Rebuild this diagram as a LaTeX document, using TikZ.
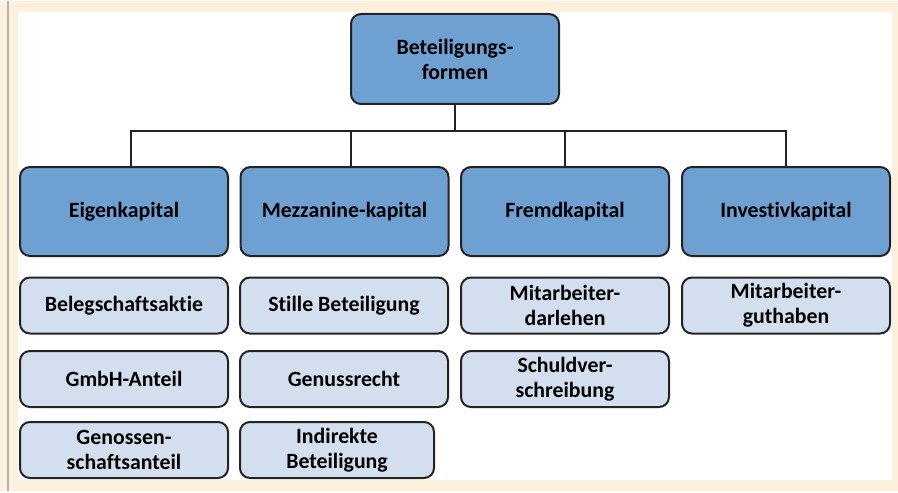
\documentclass[tikz,border=0pt]{standalone}
\usepackage{fontspec}
\setmainfont{Carlito}[Ligatures=NoCommon]
\usetikzlibrary{calc}

\definecolor{paper}{RGB}{253,240,220}
\definecolor{boxdark}{RGB}{110,160,210}
\definecolor{boxlight}{RGB}{211,223,239}
\definecolor{edge}{RGB}{35,35,35}

\begin{document}
\begin{tikzpicture}[x=0.5pt,y=-0.5pt,
  box/.style={draw=edge,line width=1pt,rounded corners=5pt,align=center,
    font=\fontsize{10.9}{12.5}\selectfont\bfseries,inner sep=0pt},
  topbox/.style={box,fill=boxdark,minimum width=104pt,minimum height=45pt},
  mainbox/.style={box,fill=boxdark,minimum width=104pt,minimum height=44.5pt},
  subbox/.style={box,fill=boxlight,minimum width=104pt,minimum height=28pt},
  conn/.style={draw=edge,line width=1pt}]

  %% Page background and frame
  \fill[paper] (0,0) rectangle (898,490);
  \fill[white] (18,11) rectangle (892,479);
  \draw[gray!60,line width=1pt] (8,0) -- (8,490);

  %% Root of the tree
  \node[topbox] (root) at (455,58) {Beteiligungs-\\formen};

  %% Main categories
  \foreach \name/\x/\txt in {eigen/124/Eigenkapital,
                             mezz/344.5/Mezzanine-kapital,
                             fremd/565/Fremdkapital,
                             invest/786/Investivkapital}
  {
    \node[mainbox] (\name) at (\x,210.5) {\txt};
  }

  %% Forms below each category
  \foreach \name/\x/\y/\txt in {eigenA/124/304.5/Belegschaftsaktie,
                                eigenB/124/378/GmbH-Anteil,
                                eigenC/124/449/{Genossen-\\schaftsanteil},
                                mezzA/344/304.5/Stille Beteiligung,
                                mezzB/344/378/Genussrecht,
                                fremdA/565/304.5/{Mitarbeiter-\\darlehen},
                                fremdB/565/378/{Schuldver-\\schreibung},
                                investA/786/304.5/{Mitarbeiter-\\guthaben}}
  {
    \node[subbox] (\name) at (\x,\y) {\txt};
  }
  \node[subbox,minimum width=97pt] (mezzC) at (337,449) {Indirekte\\Beteiligung};

  %% Connectors from the root to the categories
  \coordinate (bus) at ($(root.south)+(0,26)$);
  \draw[conn] (root.south) -- (bus);
  \foreach \name/\dx in {eigen/7,mezz/6.5,fremd/0,invest/0}
  {
    \draw[conn] (bus) -| ($(\name.north)+(\dx,0)$);
  }

\end{tikzpicture}
\end{document}
